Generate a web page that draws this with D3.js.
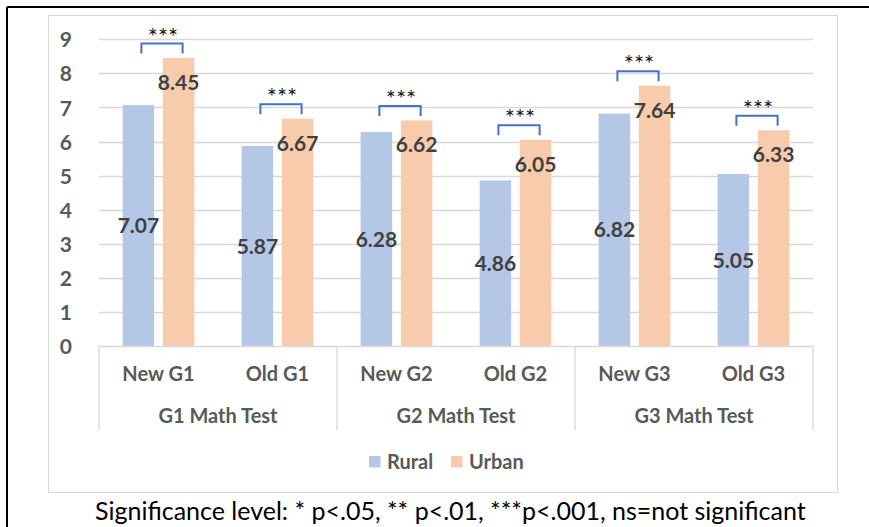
<!DOCTYPE html>
<html>
<head>
<meta charset="utf-8">
<script src="https://cdn.jsdelivr.net/npm/d3@7"></script>
<style>
  html, body { margin: 0; padding: 0; background: #fff; }
  svg { display: block; }
  text { font-family: Lato, "Open Sans", sans-serif; }
</style>
</head>
<body>
<svg id="chart" width="869" height="527"></svg>
<script>
// Mean math scores by test version and location
const categories = ["New G1", "Old G1", "New G2", "Old G2", "New G3", "Old G3"];
const groups = ["G1 Math Test", "G2 Math Test", "G3 Math Test"];
const series = ["Rural", "Urban"];
const rural = [7.07, 5.87, 6.28, 4.86, 6.82, 5.05];
const urban = [8.45, 6.67, 6.62, 6.05, 7.64, 6.33];
const significance = ["***", "***", "***", "***", "***", "***"];
const yTicks = [0, 1, 2, 3, 4, 5, 6, 7, 8, 9];
const footnote = "Significance level: * p<.05, ** p<.01, ***p<.001, ns=not significant";

const colors = { Rural: "#B4C7E7", Urban: "#F8CBAD" };
const rows = categories.map((c, i) => ({ cat: c, Rural: rural[i], Urban: urban[i], sig: significance[i] }));

const svg = d3.select("#chart");

// outer frame (top and left edges)
svg.append("line").attr("x1", 7).attr("x2", 869).attr("y1", 7).attr("y2", 7)
  .attr("stroke", "#000").attr("stroke-width", 2);
svg.append("line").attr("x1", 7).attr("x2", 7).attr("y1", 7).attr("y2", 527)
  .attr("stroke", "#000").attr("stroke-width", 2);

// chart area border
svg.append("rect").attr("x", 48.5).attr("y", 15.5).attr("width", 789).attr("height", 477)
  .attr("fill", "#fff").attr("stroke", "#D9D9D9").attr("stroke-width", 1);

const plot = { left: 99, right: 813, top: 39.3, bottom: 346 };

const y = d3.scaleLinear().domain([0, 9]).range([plot.bottom, plot.top]);
const x0 = d3.scaleBand().domain(categories).range([plot.left, plot.right]).padding(0);
const x1 = d3.scaleBand().domain(series).range([0, x0.bandwidth()])
  .paddingInner(0.216).paddingOuter(0.588);

// gridlines
svg.append("g").selectAll("line").data(yTicks.filter(t => t > 0)).join("line")
  .attr("x1", plot.left).attr("x2", plot.right)
  .attr("y1", d => Math.round(y(d)) + 0.5).attr("y2", d => Math.round(y(d)) + 0.5)
  .attr("stroke", "#D9D9D9").attr("stroke-width", 1.3);

// y axis labels
const yAxis = svg.append("g").attr("transform", `translate(${plot.left - 27},0)`)
  .call(d3.axisLeft(y).tickValues(yTicks).tickSize(0).tickPadding(0));
yAxis.select(".domain").remove();
yAxis.selectAll("text")
  .attr("font-family", "Lato, sans-serif").attr("font-size", 21).attr("font-weight", 700)
  .attr("fill", "#595959").attr("dy", "0.36em");

// bars
const gCat = svg.append("g").selectAll("g").data(rows).join("g")
  .attr("transform", d => `translate(${x0(d.cat)},0)`);
gCat.selectAll("rect").data(d => series.map(s => ({ s, v: d[s] }))).join("rect")
  .attr("x", d => x1(d.s)).attr("width", x1.bandwidth())
  .attr("y", d => y(d.v)).attr("height", d => y(0) - y(d.v))
  .attr("fill", d => colors[d.s]);

// value labels: rural centred in the bar, urban just inside the top
gCat.selectAll("text.val").data(d => series.map(s => ({ s, v: d[s] }))).join("text")
  .attr("class", "val")
  .attr("x", d => x1(d.s) + x1.bandwidth() / 2)
  .attr("y", d => d.s === "Rural" ? (y(d.v) + y(0)) / 2 : y(d.v) + 24.5)
  .attr("dy", "0.36em").attr("text-anchor", "middle")
  .attr("font-size", 21).attr("font-weight", 700).attr("fill", "#404040")
  .text(d => d.v.toFixed(2));

// significance brackets
const bracketColor = "#4472C4";
gCat.each(function (d) {
  const g = d3.select(this);
  const xl = x1("Rural") + x1.bandwidth() / 2 + 3;
  const xr = x1("Urban") + x1.bandwidth() / 2 + 4;
  const yb = y(Math.max(d.Rural, d.Urban)) - 4.5;
  const yt = yb - 10;
  g.append("path")
    .attr("d", `M${xl},${yb}V${yt}H${xr}V${yb}`)
    .attr("fill", "none").attr("stroke", bracketColor).attr("stroke-width", 2);
  g.append("text")
    .attr("x", (xl + xr) / 2 + 1).attr("y", yt + 1)
    .attr("text-anchor", "middle")
    .attr("font-family", "'DejaVu Sans', sans-serif")
    .attr("font-size", 24).attr("fill", "#1a1a1a")
    .text(d.sig);
});

// category axis
svg.append("line").attr("x1", plot.left).attr("x2", plot.right)
  .attr("y1", plot.bottom + 0.5).attr("y2", plot.bottom + 0.5)
  .attr("stroke", "#D9D9D9").attr("stroke-width", 1.3);

const groupWidth = x0.bandwidth() * 2;
const sepX = d3.range(groups.length + 1).map(i => plot.left + i * groupWidth);
svg.append("g").selectAll("line").data(sepX).join("line")
  .attr("x1", d => d).attr("x2", d => d)
  .attr("y1", plot.bottom).attr("y2", 430)
  .attr("stroke", "#D9D9D9").attr("stroke-width", 1.3);

svg.append("g").selectAll("text").data(categories).join("text")
  .attr("x", d => x0(d) + x0.bandwidth() / 2).attr("y", 374)
  .attr("dy", "0.36em").attr("text-anchor", "middle")
  .attr("font-size", 20).attr("font-weight", 700).attr("fill", "#595959")
  .text(d => d);

svg.append("g").selectAll("text").data(groups).join("text")
  .attr("x", (d, i) => plot.left + (i + 0.5) * groupWidth).attr("y", 416)
  .attr("dy", "0.36em").attr("text-anchor", "middle")
  .attr("font-size", 20).attr("font-weight", 700).attr("fill", "#595959")
  .text(d => d);

// legend
const legend = svg.append("g").attr("transform", "translate(369,456)");
const legendX = [0, 82];
series.forEach((s, i) => {
  legend.append("rect").attr("x", legendX[i]).attr("y", 0).attr("width", 11.5).attr("height", 11.5)
    .attr("fill", colors[s]);
  legend.append("text").attr("x", legendX[i] + 18).attr("y", 5.5).attr("dy", "0.36em")
    .attr("font-size", 20).attr("font-weight", 700).attr("fill", "#595959").text(s);
});

// footnote
svg.append("text").attr("x", 95).attr("y", 520)
  .attr("font-size", 25).attr("fill", "#000").text(footnote);
</script>
</body>
</html>
